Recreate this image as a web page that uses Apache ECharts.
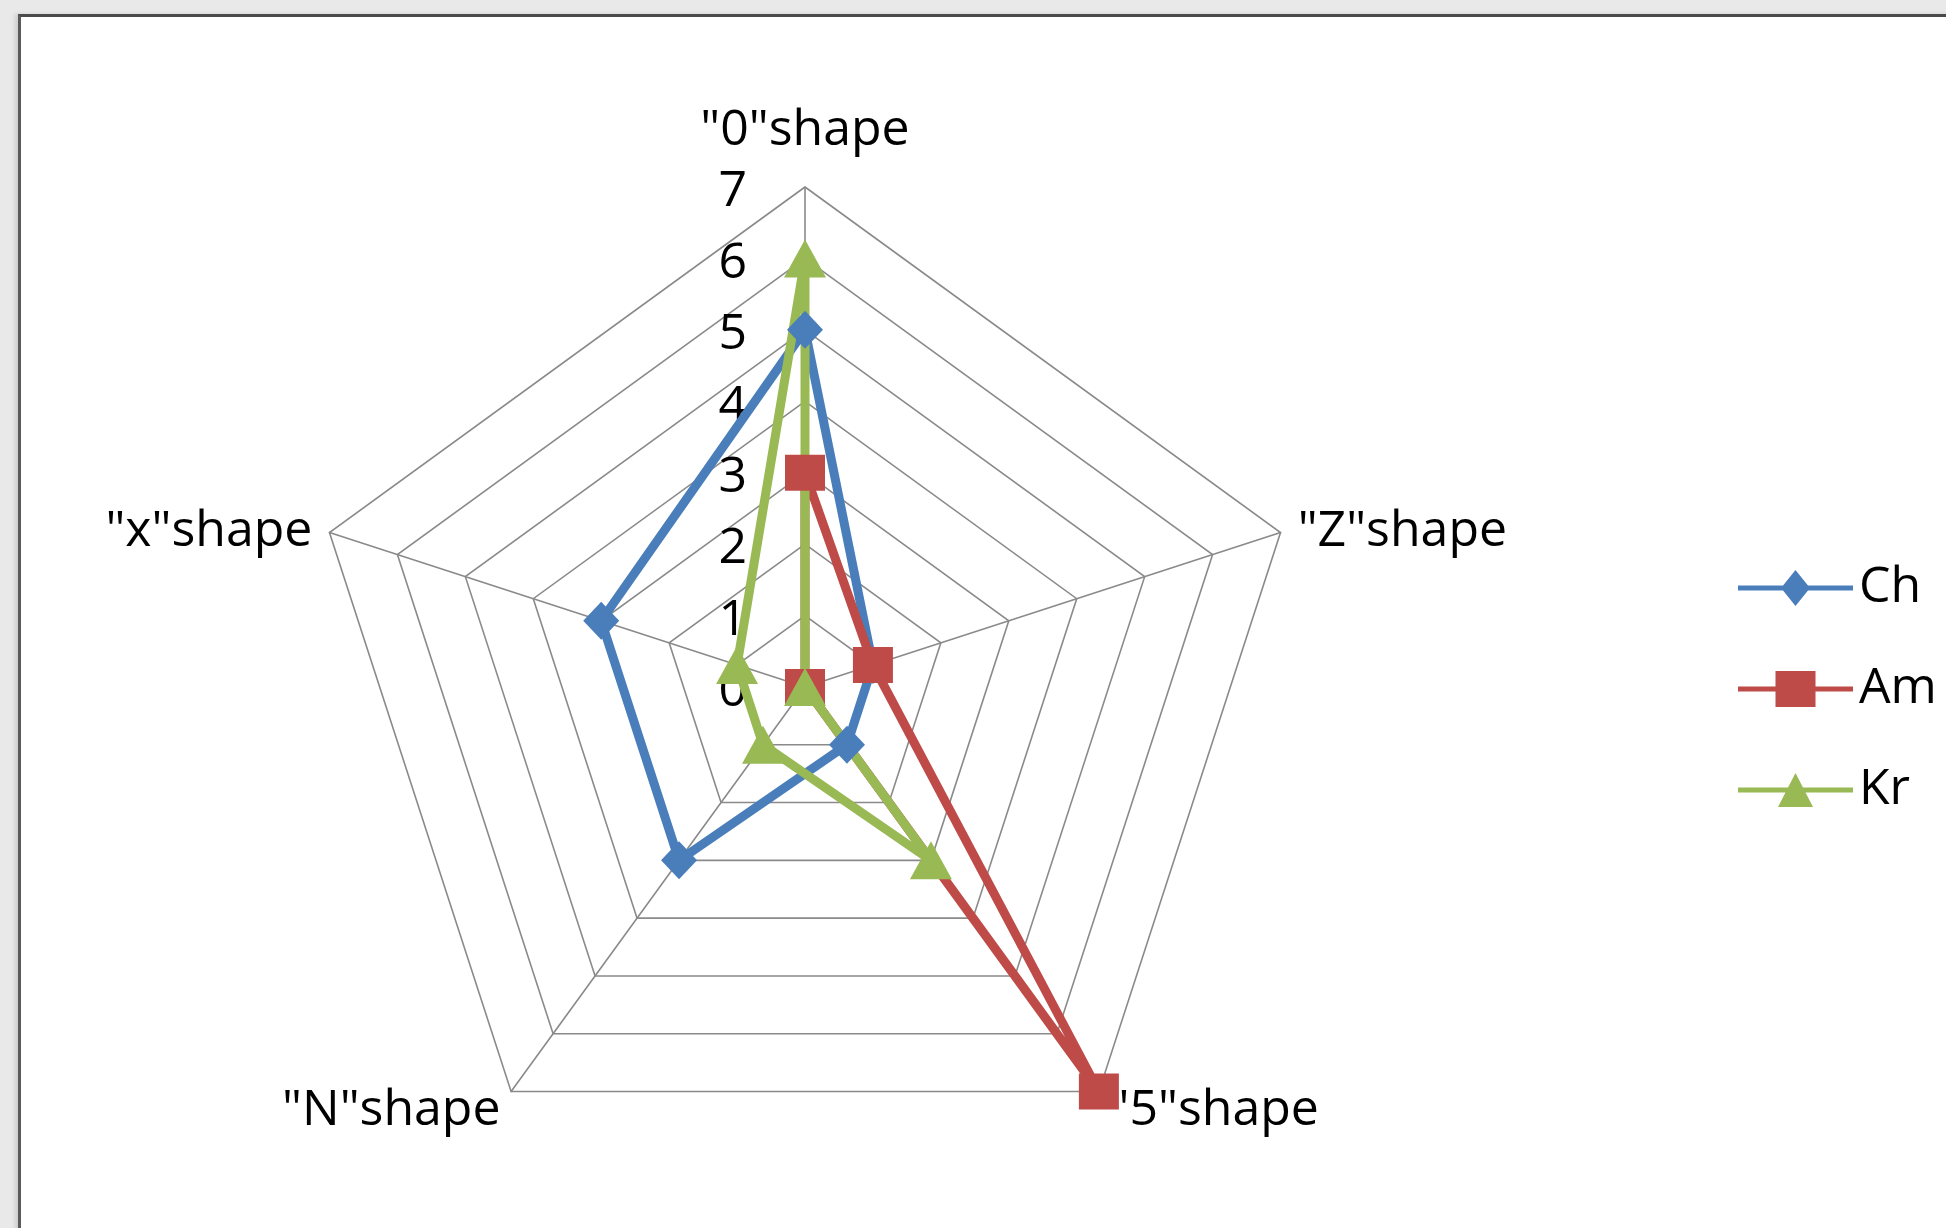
<!DOCTYPE html>
<html>
<head>
<meta charset="utf-8">
<style>
  html, body { margin: 0; padding: 0; width: 1946px; height: 1228px; overflow: hidden; background: #e9e9e9; }
  #frame {
    position: absolute; left: 18px; top: 14px; width: 1940px; height: 1212px;
    background: #ffffff;
    border-top: 3px solid #4a4a4a; border-left: 3px solid #5a5a5a; border-bottom: 2px solid #cfcfcf;
    box-shadow: -3px 0 4px rgba(0,0,0,0.12);
  }
  #chart { position: absolute; left: 0; top: 0; width: 1946px; height: 1228px; }
</style>
<script src="https://cdn.jsdelivr.net/npm/echarts@6/dist/echarts.min.js"></script>
</head>
<body>
<div id="frame"></div>
<div id="chart"></div>
<script>
// Radar axes, listed counter-clockwise from the top (ECharts lays indicators out that way)
const shapes = ['"0"shape', '"x"shape', '"N"shape', '"5"shape', '"Z"shape'];
const scaleMax = 7;

// Scores per shape, in the order of `shapes`
const seriesNames = ['Ch', 'Am', 'Kr'];
const chValues = [5, 3, 3, 1, 1];
const amValues = [3, 0, 0, 7, 1];
const krValues = [6, 1, 1, 3, 0];

const colors = { Ch: '#4a7ebb', Am: '#be4b48', Kr: '#98b954' };
const FONT = '"Open Sans", Lato, sans-serif';
const FONT_SIZE = 50;

// Legend glyphs: a line with the series marker in the middle
const legendIcons = {
  Ch: 'path://M0 15.5H115V20.5H0Z M43 18L57.5 0L72 18L57.5 36Z',
  Am: 'path://M0 15.5H115V20.5H0Z M37.5 0H77.5V36H37.5Z',
  Kr: 'path://M0 15.5H115V20.5H0Z M40 35L57.5 1L75 35Z'
};

const chart = echarts.init(document.getElementById('chart'), null, { renderer: 'canvas' });

const indicators = shapes.map((name, i) => {
  const ind = { name: name, min: 0, max: scaleMax };
  if (i === 0) {
    // value scale is printed along the top axis only
    ind.axisLabel = { show: true };
    ind.nameGap = 31;
  }
  return ind;
});

function item(name, values, symbol, size) {
  return {
    name: name,
    value: values,
    symbol: symbol,
    symbolSize: size,
    lineStyle: { color: colors[name], width: 9 },
    itemStyle: { color: colors[name], borderWidth: 0 }
  };
}

// text nudged slightly below its anchor
const lowered = { color: '#000', fontFamily: FONT, fontSize: FONT_SIZE, padding: [10, 0, 0, 0] };

chart.setOption({
  animation: false,
  backgroundColor: 'transparent',
  textStyle: { fontFamily: FONT },
  legend: {
    orient: 'vertical',
    left: 1733,
    top: 558,
    itemWidth: 115,
    itemHeight: 36,
    itemGap: 51,
    itemStyle: { borderWidth: 0 },
    textStyle: { fontFamily: FONT, fontSize: FONT_SIZE, color: '#000', padding: [0, 0, 0, 1] },
    data: seriesNames.map(n => ({ name: n, icon: legendIcons[n] }))
  },
  radar: {
    center: [805, 687],
    radius: 500,
    startAngle: 90,
    shape: 'polygon',
    splitNumber: 7,
    nameGap: 18,
    indicator: indicators,
    axisName: {
      color: '#000', fontFamily: FONT, fontSize: FONT_SIZE,
      formatter: name => '{n|' + name + '}',
      rich: { n: lowered }
    },
    axisLine: { lineStyle: { color: '#8a8a8a', width: 1.6 } },
    splitLine: { lineStyle: { color: '#8a8a8a', width: 1.6 } },
    splitArea: { show: false },
    axisTick: { show: false },
    axisLabel: {
      show: false,
      color: '#000',
      fontFamily: FONT,
      fontSize: FONT_SIZE,
      margin: 58,
      formatter: v => '{t|' + v + '}',
      rich: { t: lowered },
      showMinLabel: true,
      showMaxLabel: true,
      hideOverlap: false
    }
  },
  series: [{
    type: 'radar',
    data: [
      item('Ch', chValues, 'diamond', [36, 38]),
      item('Am', amValues, 'rect', [40, 36]),
      item('Kr', krValues, 'triangle', [42, 38])
    ]
  }]
});
</script>
</body>
</html>
